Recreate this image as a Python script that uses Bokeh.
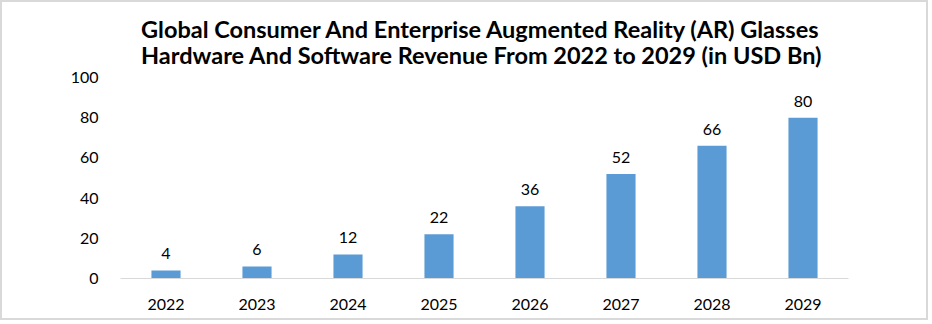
from bokeh.plotting import figure
from bokeh.models import ColumnDataSource, LabelSet, Range1d, FixedTicker
from bokeh.core.properties import value
from bokeh.embed import file_html
from bokeh.resources import INLINE

years = ["2022", "2023", "2024", "2025", "2026", "2027", "2028", "2029"]
revenue = [4, 6, 12, 22, 36, 52, 66, 80]
y_ticks = [0, 20, 40, 60, 80, 100]
title_lines = [
    "Global Consumer And Enterprise Augmented Reality (AR) Glasses",
    "Hardware And Software Revenue From  2022 to 2029 (in USD Bn)",
]

src = ColumnDataSource(dict(x=years, y=revenue, lbl=[str(v) for v in revenue]))

FONT = "Lato"
p = figure(
    x_range=years,
    y_range=Range1d(0, 100),
    width=928,
    height=320,
    output_backend="svg",
    toolbar_location=None,
    min_border_left=118,
    min_border_right=82,
    min_border_top=75,
    min_border_bottom=44,
)
p.styles = {"border": "2px solid #d9d9d9"}
p.title.text = "\n".join(title_lines)
p.title.align = "center"
p.title.text_font = FONT
p.title.text_font_size = "23.5px"
p.title.text_font_style = "bold"
p.title.text_color = "#000000"
p.title.text_line_height = 0.95
p.title.standoff = 16

p.vbar(x="x", top="y", width=0.32, source=src, color="#5B9BD5", line_color=None)

labels = LabelSet(x="x", y="y", text="lbl", source=src, text_align="center",
                  text_baseline="bottom", y_offset=11, text_font_size="16px",
                  text_color="#000000", text_font=value(FONT))
p.add_layout(labels)

p.xgrid.grid_line_color = None
p.ygrid.grid_line_color = None
p.outline_line_color = None

p.yaxis.ticker = FixedTicker(ticks=y_ticks)
p.yaxis.axis_line_color = None
p.yaxis.major_tick_line_color = None
p.yaxis.minor_tick_line_color = None
p.yaxis.major_label_standoff = 16
p.xaxis.axis_line_color = "#d9d9d9"
p.xaxis.axis_line_width = 1
p.xaxis.major_tick_line_color = None
p.xaxis.minor_tick_line_color = None
p.xaxis.major_label_standoff = 14
for ax in (p.xaxis, p.yaxis):
    ax.major_label_text_font = FONT
    ax.major_label_text_font_size = "16px"
    ax.major_label_text_color = "#000000"

open("out.html", "w").write(file_html(p, INLINE))
